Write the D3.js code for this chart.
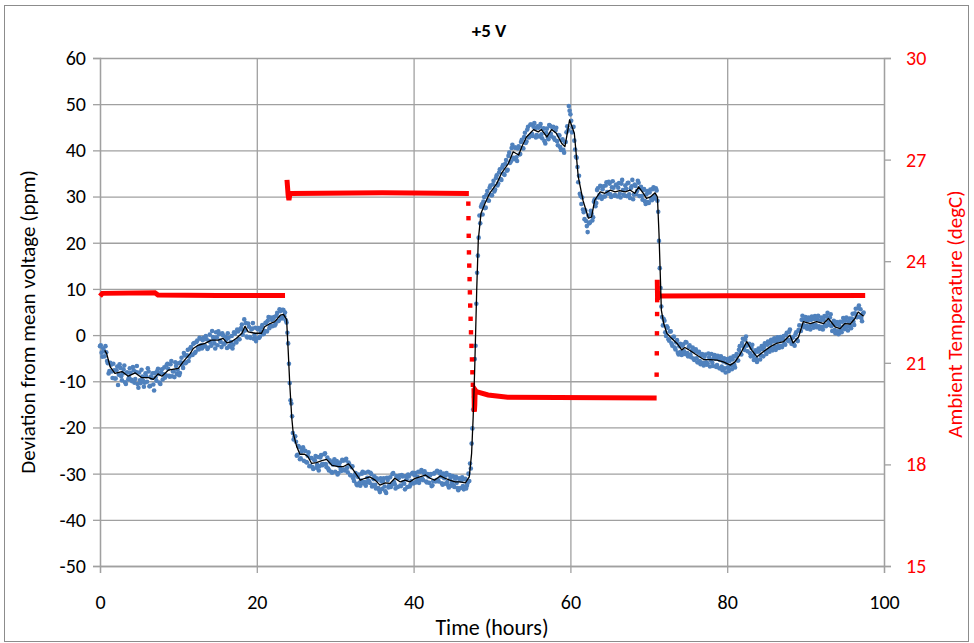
<!DOCTYPE html>
<html>
<head>
<meta charset="utf-8">
<script src="https://cdn.jsdelivr.net/npm/d3@7"></script>
<style>
  html, body { margin: 0; padding: 0; background: #fff; }
  text { font-family: Carlito, Calibri, Lato, "Liberation Sans", sans-serif; }
</style>
</head>
<body>
<svg width="974" height="643"></svg>
<script>
// ---- data ----
// blue scatter: deviation (ppm), one sample every 0.2 h from t = 0
const scatterStep = 0.2;
const scatterV = [
  -2.4,-3.8,-2.9,-4.6,-3.7, -6.1,-7.8,-6.4,-9.3,-7.6, -9.4,-6.8,-8.6,-7.1,-9.8, -7.4,-10.2,-8.1,-9.6,-7.2,
  -9.7,-6.9,-10.3,-8.0,-10.6, -8.1,-10.4,-9.0,-11.2,-8.3, -10.1,-7.9,-11.0,-9.3,-10.7, -8.2,-9.9,-7.3,-10.3,-8.1,
  -9.6,-7.0,-8.7,-6.2,-8.8, -6.3,-8.9,-7.8,-5.9,-8.4, -6.1,-8.2,-4.9,-7.1,-4.4, -5.9,-3.2,-4.7,-2.6,-4.3,
  -1.7,-3.6,-1.2,-3.1,-0.8, -2.9,-0.6,-2.4,-0.9,-2.7, 0.1,-2.3,-0.4,-1.8,0.6, -2.2,0.2,-1.5,0.4,-2.0,
  -0.3,-2.8,-0.6,-2.5,-0.2, -2.1,0.3,-1.6,0.8,-0.9, 1.5,0.1,3.4,2.6,-0.5, 1.8,-0.6,1.4,-0.8,1.6,
  -0.7,1.5,-0.3,1.7,0.2, 0.9,2.7,3.1,1.5,3.8, 1.9,3.9,2.4,4.8,3.1, 5.2,3.6,5.4,4.9,2.7,
  -1.8,-10.4,-14.8,-21.2,-22.0, -23.1,-25.9,-24.3,-26.7,-24.8, -27.2,-25.1,-27.6,-25.4,-28.3, -26.6,-29.0,-27.1,-28.7,-26.4,
  -28.4,-26.0,-28.2,-25.8,-27.9, -26.5,-29.3,-27.6,-29.8,-27.4, -29.6,-27.3,-29.9,-27.6,-29.4, -27.2,-29.3,-26.8,-29.7,-28.0,
  -30.4,-28.4,-31.6,-29.9,-32.5, -30.2,-32.6,-30.0,-32.1,-29.8, -31.9,-29.6,-32.0,-30.1,-32.4, -30.6,-33.2,-31.3,-33.5,-31.0,
  -33.3,-31.0,-33.8,-30.9,-33.0, -30.8,-32.4,-29.9,-32.3,-30.5, -32.9,-30.4,-32.7,-30.6,-32.2, -30.5,-32.9,-30.6,-32.4,-30.0,
  -32.1,-29.9,-31.6,-29.6,-31.4, -29.2,-31.4,-29.5,-31.7,-30.1, -32.0,-30.1,-32.5,-30.0,-31.7, -29.4,-31.7,-29.6,-32.1,-30.0,
  -32.2,-29.9,-32.5,-30.3,-32.6, -30.5,-32.9,-30.7,-33.1,-31.0, -33.1,-30.8,-33.4,-31.1,-32.6, -30.0,-27.8,-23.5,-16.1,-5.2,
  6.8,17.2,25.9,27.8,26.1, 29.9,27.6,31.2,29.1,32.4, 30.3,33.4,31.5,34.6,32.8, 35.9,33.6,36.8,34.7,37.9,
  35.8,39.5,37.6,41.2,38.1, 40.6,37.7,40.9,39.2,42.3, 40.4,43.8,41.9,45.1,43.0, 45.6,43.1,45.9,42.8,45.2,
  43.0,45.7,42.6,44.8,41.5, 44.7,42.4,45.3,43.0,45.1, 42.3,44.9,41.1,43.2,40.1, 42.4,39.5,41.8,45.2,49.6,
  47.8,43.9,45.1,40.2,38.4, 33.1,30.6,28.4,27.2,25.1, 24.7,22.3,24.2,26.9,24.8, 28.9,27.9,31.4,29.8,32.3,
  29.5,32.2,30.0,33.1,30.6, 32.8,29.9,33.3,30.2,32.5, 30.0,32.9,29.8,33.6,30.4, 32.4,30.1,33.0,29.7,32.2,
  29.4,32.6,30.5,33.4,30.1, 32.1,29.3,31.6,28.4,31.2, 28.6,31.5,29.2,32.0,29.6, 31.3,26.7,14.5,6.2,2.1,
  3.1,-0.2,1.6,-1.2,0.8, -2.3,-0.3,-3.1,-1.1,-4.2, -1.9,-4.3,-2.0,-4.1,-1.6, -4.6,-2.2,-4.8,-2.7,-5.4,
  -3.1,-5.9,-3.6,-6.3,-4.1, -6.6,-4.2,-6.4,-4.0,-6.8, -4.1,-6.7,-4.3,-6.9,-4.5, -7.2,-4.6,-7.6,-5.0,-8.1,
  -5.2,-7.8,-4.9,-7.4,-4.6, -7.0,-4.1,-5.5,-2.4,-4.2, -0.8,-3.2,-0.3,-3.5,-1.9, -4.6,-2.1,-5.4,-3.3,-5.8,
  -2.9,-5.3,-2.4,-4.6,-1.8, -4.1,-1.4,-3.6,-1.0,-3.3, -0.7,-3.2,-0.5,-2.8,-0.4, -2.6,-0.2,-2.1,0.5,-1.3,
  1.2,-1.9,-0.4,-2.3,0.6, -1.3,2.1,0.9,4.2,1.7, 3.9,1.4,3.8,1.2,4.0, 1.6,4.1,1.7,4.2,1.4,
  3.8,1.2,4.1,1.9,4.8, 2.2,4.5,0.9,3.1,0.4, 2.8,0.2,2.9,0.6,3.7, 1.3,3.8,1.0,3.6,1.5,
  4.6,2.2,5.7,3.9,6.4, 5.6,3.0,4.9
];
// the interleaved samples, at t = 0.1 h + 0.2 h * i
const scatterOffset = 0.1;
const scatterV2 = [
  -2.2,-4.7,-3.4,-2.4,-5.6, -8.3,-6.0,-7.9,-6.2,-9.4, -7.6,-10.8,-6.3,-8.9,-8.3, -6.6,-10.6,-8.1,-9.2,-8.2,
  -10.0,-7.6,-9.5,-6.7,-11.4, -9.8,-7.5,-9.9,-10.3,-8.9, -7.2,-11.1,-9.0,-8.3,-12.0, -9.2,-7.8,-8.4,-10.6,-7.4,
  -8.5,-9.2,-6.5,-7.3,-9.0, -5.6,-7.9,-9.1,-6.7,-7.5, -8.7,-5.9,-6.4,-3.9,-6.1, -4.4,-5.6,-2.9,-4.2,-1.9,
  -3.9,-1.5,-2.8,-0.6,-2.2, -1.1,-2.4,-0.2,-3.0,-1.3, -1.6,0.9,-1.0,-2.9,-0.5, 0.8,-1.2,-2.6,-0.1,-1.8,
  -1.0,0.4,-2.3,-1.5,-2.9, 0.6,-1.4,1.2,-0.9,1.3, 2.3,0.9,1.0,-0.3,2.5, -0.4,1.2,2.6,0.0,-1.3,
  1.3,-0.6,0.8,2.2,0.3, 2.6,0.8,3.9,2.0,3.3, 3.5,2.1,4.2,3.0,5.6, 3.8,5.5,4.1,3.2,0.5,
  -6.2,-14.1,-17.6,-22.6,-21.9, -26.1,-24.0,-26.9,-25.2,-24.3, -25.0,-27.5,-26.1,-28.4,-26.6, -28.6,-27.0,-26.2,-28.1,-29.3,
  -26.5,-28.0,-27.9,-25.6,-28.6, -28.9,-27.1,-29.6,-28.0,-26.9, -27.9,-30.2,-28.3,-29.0,-27.0, -29.1,-27.1,-28.8,-27.6,-30.3,
  -28.6,-31.0,-30.4,-32.2,-30.7, -32.0,-31.5,-29.6,-31.8,-32.6, -30.9,-31.6,-29.8,-32.8,-31.2, -32.4,-31.0,-33.1,-34.0,-31.7,
  -31.6,-32.8,-34.2,-31.4,-32.5, -32.9,-30.1,-31.8,-33.2,-30.7, -31.0,-32.6,-30.3,-31.9,-33.4, -31.2,-30.2,-32.8,-31.6,-29.8,
  -30.3,-31.9,-30.7,-32.0,-29.6, -31.1,-29.8,-30.2,-31.9,-30.6, -30.4,-32.7,-31.6,-29.8,-31.4, -31.4,-29.9,-30.6,-32.4,-31.0,
  -30.4,-31.8,-33.0,-31.0,-31.9, -32.5,-31.1,-32.0,-33.6,-31.4, -31.5,-32.7,-31.2,-33.2,-32.0, -31.6,-28.9,-20.2,-13.4,-2.3,
  13.5,21.1,24.2,28.3,28.9, 27.5,30.4,29.2,31.9,30.3, 32.6,31.1,34.0,32.4,35.2, 33.8,36.3,34.9,37.1,35.6,
  38.8,37.3,40.5,38.4,40.6, 38.5,40.4,39.1,41.8,40.5, 42.9,41.6,44.5,42.8,45.6, 43.6,45.1,44.8,43.3,44.9,
  45.2,43.5,44.6,42.0,43.8, 42.9,45.5,43.6,44.9,42.7, 44.3,42.0,43.3,40.7,42.2, 40.1,41.8,43.9,44.4,48.6,
  46.4,45.0,42.1,38.6,36.4, 34.5,30.1,29.8,26.6,27.0, 23.6,25.9,24.4,26.3,25.5, 29.4,28.6,31.8,30.3,30.0,
  31.6,30.0,32.4,31.0,33.2, 30.5,32.0,31.9,30.3,32.6, 31.9,30.6,32.8,31.4,30.2, 31.7,32.9,30.5,31.8,33.6,
  30.4,32.3,31.2,33.0,31.8, 30.1,31.4,29.0,30.5,28.8, 30.9,29.6,31.6,30.1,31.8, 29.1,20.4,10.2,3.9,3.5,
  0.6,1.9,-0.9,0.8,-1.8, -0.5,-2.7,-1.6,-3.8,-2.4, -3.6,-2.3,-3.5,-1.5,-3.9, -2.6,-4.2,-3.4,-5.1,-3.5,
  -5.0,-3.8,-5.6,-4.4,-6.0, -4.7,-5.9,-6.1,-4.8,-5.4, -6.0,-4.9,-5.1,-6.5,-5.2, -5.4,-6.8,-5.7,-7.2,-6.0,
  -7.0,-5.6,-6.6,-5.3,-6.4, -4.6,-5.5,-3.2,-4.0,-1.7, -2.5,-1.0,-2.3,-2.0,-3.9, -2.8,-4.5,-3.8,-5.1,-3.6,
  -3.4,-4.4,-3.0,-2.6,-3.6, -2.1,-3.2,-1.8,-2.9,-1.4, -2.6,-1.3,-2.4,-1.1,-2.3, -0.9,-1.8,0.0,-1.0,0.7,
  -1.0,-0.6,-2.0,0.1,-1.0, 1.1,0.9,3.3,2.2,3.4, 2.0,3.2,1.9,3.3,2.2, 3.5,2.2,3.4,1.9,3.1,
  1.8,3.3,2.2,4.0,2.9, 3.8,1.9,2.6,1.1,2.3, 0.8,2.1,1.2,2.9,1.9, 3.1,1.8,3.0,2.0,3.6,
  2.9,4.7,3.9,5.8,4.0, 3.7,4.6
];

// black line: running mean (ppm)
const smoothT = [0.6,0.85,1.3,1.9,2.8,3.6,4.5,5.3,6.2,6.8,7.4,7.9,8.7,9.6,10.0,10.6,11.5,11.9,12.5,13.4,
  14.2,15.1,15.7,16.2,16.8,17.4,18.1,18.5,18.9,19.8,20.6,21.0,21.7,22.3,23.0,23.4,23.8,
  24.0,24.2,24.45,24.65,25.1,25.5,26.1,26.5,27.0,27.6,28.3,28.9,29.6,30.4,31.0,31.7,32.3,33.2,33.8,34.4,
  35.1,35.7,36.4,37.0,37.6,38.3,38.9,39.5,40.2,40.8,41.5,42.1,42.7,43.4,44.0,44.6,45.3,45.9,46.6,47.1,47.4,47.6,47.8,
  48.05,48.25,48.6,49.1,49.7,50.6,51.2,52.1,52.7,53.4,53.8,54.4,55.3,55.9,56.3,57.0,57.6,58.2,58.9,59.3,
  59.9,60.5,61.0,61.6,62.3,62.7,63.1,63.8,64.4,65.1,65.7,66.3,67.0,67.6,68.2,68.7,69.3,69.7,70.2,70.8,
  71.1,71.3,71.5,71.6,71.9,
  72.3,72.9,73.6,74.2,74.6,75.3,76.1,77.0,77.8,78.7,79.5,80.4,81.0,81.6,82.5,83.1,83.8,84.6,85.5,86.3,
  87.2,87.6,88.0,88.4,89.1,89.7,90.6,91.4,92.3,92.9,93.8,94.4,95.0,95.7,96.3,96.7,97.4];
const smoothV = [-3.3,-4.0,-6.9,-8.3,-7.9,-8.9,-8.2,-9.2,-9.2,-9.6,-8.4,-8.9,-7.6,-7.3,-7.2,-5.8,-4.0,-2.9,-2.2,-1.8,
  -1.1,-1.1,-0.7,-1.7,-1.4,-0.7,0.4,1.9,0.7,0.4,0.4,1.8,2.5,2.9,4.3,4.5,3.4,
  -3.2,-10.5,-17.7,-21.3,-24.2,-25.8,-25.8,-26.3,-27.8,-27.6,-27.2,-26.9,-28.2,-28.5,-28.5,-27.9,-29.2,-31.4,-31.0,-30.7,
  -31.4,-32.5,-32.0,-32.1,-31.0,-31.8,-31.4,-31.8,-31.0,-30.7,-30.3,-31.0,-31.4,-30.5,-31.0,-31.4,-31.8,-31.8,-32.0,-30.7,-25.6,-17.7,-6.9,
  9.7,20.6,26.4,28.5,30.7,32.8,35.0,37.2,39.7,39.0,40.8,42.9,44.5,44.0,44.5,42.9,44.5,43.7,41.5,40.8,
  46.6,43.7,34.3,29.2,25.3,25.6,29.2,31.0,30.7,31.4,31.0,31.3,31.0,31.4,30.7,32.1,30.7,29.6,29.9,30.8,
  29.9,22.0,11.2,5.4,2.5,
  0.4,-0.7,-1.8,-3.2,-2.7,-3.4,-4.3,-5.3,-5.3,-5.4,-5.8,-6.5,-5.8,-4.3,-1.4,-3.2,-4.7,-3.6,-2.5,-1.8,
  -1.4,-0.7,0,-1.7,-0.4,2.9,2.5,2.9,2.5,3.6,1.7,1.4,2.5,2.4,3.6,5.0,4.1];

// red: ambient temperature (degC); null marks a gap in the trace
const tempLineT = [0,0.3,7.0,7.4,15,23.6, null,
  23.85,23.9,23.95,24.0,24.1,24.2,24.4,36,47.05, null,
  47.7,47.75,47.8,47.85,48.0,49.5,52,71.0, null,
  71.08,71.12,71.2,71.3,80,97.6];
const tempLineV = [22.97,23.05,23.07,23.0,22.99,22.99, null,
  26.4,26.25,26.1,25.95,25.8,25.95,26.0,26.02,26.0, null,
  20.25,19.55,19.75,20.2,20.15,20.05,19.98,19.96, null,
  23.45,22.85,23.1,22.97,22.98,22.99];
// isolated samples logged while the temperature was changing
const tempDotT = [46.98,47.0,47.03,47.06,47.1,47.14,47.18,47.22,47.27,47.32,47.38,47.44,47.5,47.56,
  71.0,71.02,71.04,71.06,71.07];
const tempDotV = [25.7,25.27,24.75,24.26,23.87,23.47,23.08,22.69,22.3,21.9,21.5,21.1,20.72,20.35,
  20.65,21.28,21.87,22.44,22.85];

const xTicks = [0, 20, 40, 60, 80, 100];
const yTicks = [-50, -40, -30, -20, -10, 0, 10, 20, 30, 40, 50, 60];
const tTicks = [15, 18, 21, 24, 27, 30];

// ---- layout ----
const svg = d3.select("svg");
const plot = { left: 100, right: 884, top: 58, bottom: 566 };
const gridColor = "#a0a0a0";

const x = d3.scaleLinear().domain([0, 100]).range([plot.left, plot.right]);
const y = d3.scaleLinear().domain([-50, 60]).range([plot.bottom, plot.top]);
const y2 = d3.scaleLinear().domain([15, 30]).range([plot.bottom, plot.top]);

svg.append("rect").attr("width", 974).attr("height", 643).attr("fill", "#fff");
svg.append("rect")
   .attr("x", 4.5).attr("y", 5.5).attr("width", 964).attr("height", 636)
   .attr("fill", "none").attr("stroke", "#8c8c8c").attr("stroke-width", 1);

// gridlines
svg.append("g")
   .attr("transform", `translate(${plot.left},0)`)
   .call(d3.axisLeft(y).tickValues(yTicks).tickSize(-(plot.right - plot.left)).tickFormat(""))
   .call(g => g.select(".domain").remove())
   .call(g => g.selectAll("line").attr("stroke", gridColor).attr("stroke-width", 1.3));
svg.append("g")
   .attr("transform", `translate(0,${plot.bottom})`)
   .call(d3.axisBottom(x).tickValues(xTicks).tickSize(-(plot.bottom - plot.top)).tickFormat(""))
   .call(g => g.select(".domain").remove())
   .call(g => g.selectAll("line").attr("stroke", gridColor).attr("stroke-width", 1.3));

// axes
const axisStyle = (g, color) => {
  g.select(".domain").attr("stroke", gridColor).attr("stroke-width", 1.3);
  g.selectAll(".tick line").attr("stroke", gridColor).attr("stroke-width", 1.3);
  g.selectAll(".tick text").attr("fill", color).style("font-size", "20px");
};

svg.append("g")
   .attr("transform", `translate(${plot.left},0)`)
   .call(d3.axisLeft(y).tickValues(yTicks).tickSize(7).tickPadding(7).tickFormat(d => String(d)))
   .call(g => axisStyle(g, "#000"));

svg.append("g")
   .attr("transform", `translate(0,${plot.bottom})`)
   .call(d3.axisBottom(x).tickValues(xTicks).tickSize(7).tickPadding(22).tickFormat(d => String(d)))
   .call(g => axisStyle(g, "#000"));

svg.append("g")
   .attr("transform", `translate(${plot.right},0)`)
   .call(d3.axisRight(y2).tickValues(tTicks).tickSize(7).tickPadding(15).tickFormat(d => String(d)))
   .call(g => axisStyle(g, "#ff0000"));

// blue scatter
const scatter = svg.append("g").attr("fill", "#4f81bd");
scatter.selectAll("circle.a")
  .data(scatterV)
  .join("circle")
    .attr("class", "a")
    .attr("cx", (d, i) => x(i * scatterStep))
    .attr("cy", d => y(d))
    .attr("r", 2.3);
scatter.selectAll("circle.b")
  .data(scatterV2)
  .join("circle")
    .attr("class", "b")
    .attr("cx", (d, i) => x(scatterOffset + i * scatterStep))
    .attr("cy", d => y(d))
    .attr("r", 2.3);

// red temperature
const tempLine = d3.line()
  .defined(d => d[1] !== null)
  .x(d => x(d[0]))
  .y(d => y2(d[1]));
svg.append("path")
   .datum(d3.zip(tempLineT, tempLineV))
   .attr("d", tempLine)
   .attr("fill", "none")
   .attr("stroke", "#ff0000")
   .attr("stroke-width", 5);
svg.append("g")
  .selectAll("rect")
  .data(d3.zip(tempDotT, tempDotV))
  .join("rect")
    .attr("x", d => x(d[0]) - 2.2)
    .attr("y", d => y2(d[1]) - 2.2)
    .attr("width", 4.4)
    .attr("height", 4.4)
    .attr("fill", "#ff0000");

// black running mean
svg.append("path")
   .datum(d3.zip(smoothT, smoothV))
   .attr("d", d3.line().x(d => x(d[0])).y(d => y(d[1])))
   .attr("fill", "none")
   .attr("stroke", "#000")
   .attr("stroke-width", 1.3)
   .attr("stroke-linejoin", "round");

// titles
svg.append("text")
   .attr("x", 489).attr("y", 37)
   .attr("text-anchor", "middle")
   .style("font-size", "19px").style("font-weight", "bold")
   .text("+5 V");

svg.append("text")
   .attr("x", 492).attr("y", 635)
   .attr("text-anchor", "middle")
   .style("font-size", "22px")
   .text("Time (hours)");

svg.append("text")
   .attr("transform", "translate(35,322) rotate(-90)")
   .attr("text-anchor", "middle")
   .style("font-size", "21px")
   .text("Deviation from mean voltage (ppm)");

svg.append("text")
   .attr("transform", "translate(962,314) rotate(-90)")
   .attr("text-anchor", "middle")
   .attr("fill", "#ff0000")
   .style("font-size", "21px")
   .text("Ambient Temperature (degC)");
</script>
</body>
</html>
